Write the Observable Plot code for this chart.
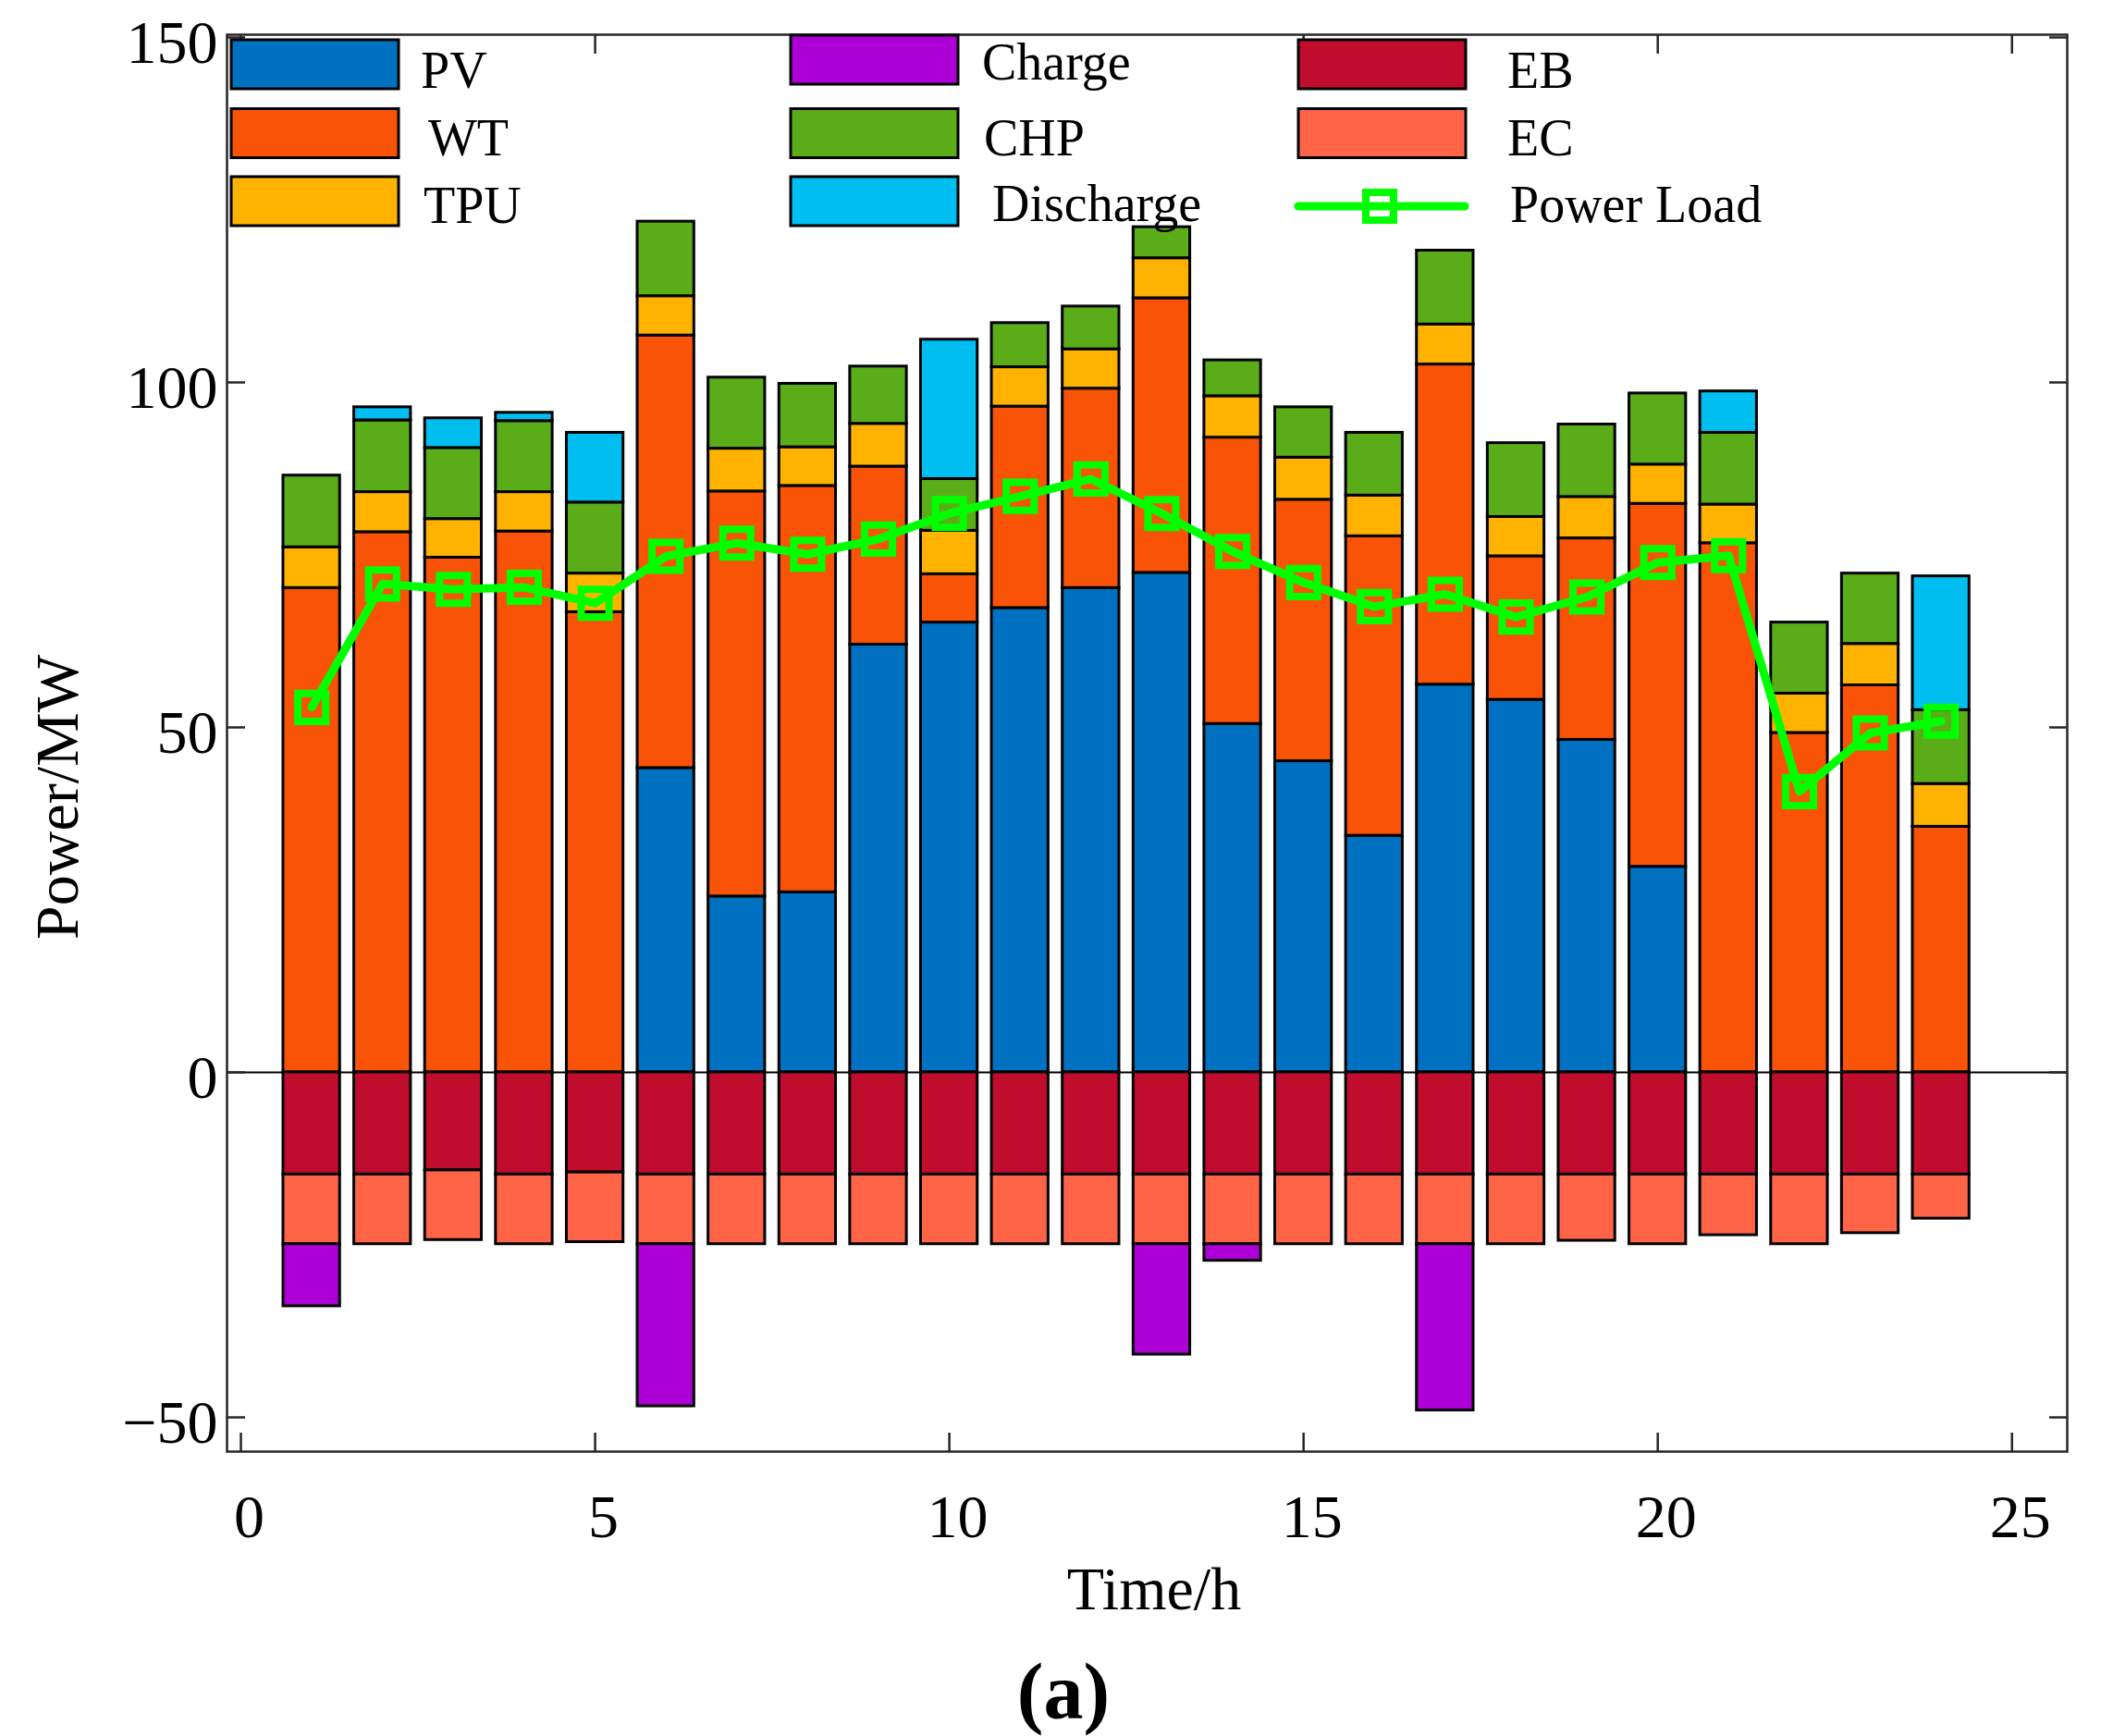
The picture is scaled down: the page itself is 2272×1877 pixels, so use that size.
<!DOCTYPE html>
<html>
<head>
<meta charset="utf-8">
<script src="https://cdn.jsdelivr.net/npm/d3@7"></script>
<script src="https://cdn.jsdelivr.net/npm/@observablehq/plot@0.6"></script>
<style>
  body { margin: 0; background: #fff; }
  #chart svg { display: block; }
</style>
</head>
<body>
<div id="chart"></div>
<script>
// hourly dispatch, MW
const hours = d3.range(1, 25);
const series = ["PV", "WT", "TPU", "CHP", "Discharge", "EB", "EC", "Charge"];
const colors = ["#0070c0", "#f95307", "#ffb300", "#5aad19", "#00bff0", "#c00d2e", "#ff6446", "#ad00d6"];

const pv = [0, 0, 0, 0, 0, 44.1, 25.5, 26.1, 62.0, 65.2, 67.3, 70.2, 72.4, 50.5, 45.1, 34.3, 56.2, 54.0, 48.2, 29.8, 0, 0, 0, 0];
const wt = [70.2, 78.3, 74.6, 78.4, 66.7, 62.7, 58.7, 58.9, 25.8, 7.0, 29.2, 28.9, 39.8, 41.5, 37.9, 43.4, 46.4, 20.8, 29.2, 52.6, 76.7, 49.2, 56.1, 35.6];
const tpu = [5.9, 5.8, 5.6, 5.7, 5.6, 5.7, 6.2, 5.6, 6.2, 6.3, 5.7, 5.7, 5.8, 6.0, 6.1, 5.9, 5.8, 5.7, 6.0, 5.7, 5.6, 5.7, 6.0, 6.2];
const chp = [10.4, 10.4, 10.3, 10.3, 10.3, 10.8, 10.3, 9.2, 8.3, 7.5, 6.4, 6.2, 4.5, 5.2, 7.3, 9.1, 10.7, 10.7, 10.5, 10.3, 10.4, 10.3, 10.2, 10.7];
const discharge = [0, 1.9, 4.3, 1.2, 10.1, 0, 0, 0, 0, 20.2, 0, 0, 0, 0, 0, 0, 0, 0, 0, 0, 6.0, 0, 0, 19.4];
const eb = [-14.8, -14.8, -14.2, -14.8, -14.5, -14.8, -14.8, -14.8, -14.8, -14.8, -14.8, -14.8, -14.8, -14.8, -14.8, -14.8, -14.8, -14.8, -14.8, -14.8, -14.8, -14.8, -14.8, -14.8];
const ec = [-10.1, -10.1, -10.1, -10.1, -10.1, -10.1, -10.1, -10.1, -10.1, -10.1, -10.1, -10.1, -10.1, -10.1, -10.1, -10.1, -10.1, -10.1, -9.6, -10.1, -8.8, -10.1, -8.5, -6.4];
const charge = [-9.0, 0, 0, 0, 0, -23.5, 0, 0, 0, 0, 0, 0, -16.0, -2.4, 0, 0, -24.1, 0, 0, 0, 0, 0, 0, 0];
const load = [52.9, 70.8, 70.0, 70.3, 68.0, 74.8, 76.7, 75.1, 77.3, 81.0, 83.5, 86.0, 81.0, 75.5, 71.0, 67.5, 69.3, 66.0, 68.9, 73.9, 74.9, 40.7, 49.2, 50.9];

const xTicks = [0, 5, 10, 15, 20, 25];
const yTicks = [-50, 0, 50, 100, 150];

const bySeries = {PV: pv, WT: wt, TPU: tpu, CHP: chp, Discharge: discharge, EB: eb, EC: ec, Charge: charge};
const rows = [];
series.forEach(s => bySeries[s].forEach((v, i) => {
  if (v !== 0) rows.push({hour: hours[i], series: s, value: v});
}));
const loadRows = hours.map((h, i) => ({hour: h, load: load[i]}));

const font = "'Liberation Serif', 'Times New Roman', serif";
const minus = d => d < 0 ? "\u2212" + Math.abs(d) : String(d);

const chart = Plot.plot({
  width: 2272,
  height: 1877,
  marginLeft: 245,
  marginRight: 37,
  marginTop: 37,
  marginBottom: 308,
  style: {fontFamily: font, fontSize: "66px", color: "black", background: "white"},
  x: {domain: [-0.196, 25.78]},
  y: {domain: [-54.96, 150.4]},
  color: {domain: series, range: colors},
  marks: [
    Plot.ruleY([0], {stroke: "black", strokeWidth: 2}),
    Plot.rectY(rows, Plot.stackY({
      x1: d => d.hour - 0.4,
      x2: d => d.hour + 0.4,
      y: "value",
      z: "series",
      fill: "series",
      order: series,
      stroke: "black",
      strokeWidth: 3
    })),
    Plot.line(loadRows, {x: "hour", y: "load", stroke: "#00ff00", strokeWidth: 9, strokeLinejoin: "round"}),
    Plot.dot(loadRows, {x: "hour", y: "load", symbol: "square", r: 17, stroke: "#00ff00", strokeWidth: 8, fill: "none"}),
    // inward ticks, MATLAB style
    Plot.axisX(xTicks, {anchor: "bottom", tickSize: -20, tickFormat: () => "", label: null, stroke: "#262626", strokeWidth: 2.5}),
    Plot.axisX(xTicks, {anchor: "top", tickSize: -20, tickFormat: () => "", label: null, stroke: "#262626", strokeWidth: 2.5}),
    Plot.axisY(yTicks, {anchor: "left", tickSize: -20, tickFormat: () => "", label: null, stroke: "#262626", strokeWidth: 2.5}),
    Plot.axisY(yTicks, {anchor: "right", tickSize: -20, tickFormat: () => "", label: null, stroke: "#262626", strokeWidth: 2.5}),
    // tick labels
    Plot.axisX(xTicks, {anchor: "bottom", tickSize: 0, tickPadding: 46, dx: 9, label: null, fontSize: 66}),
    Plot.axisY(yTicks, {anchor: "left", tickSize: 0, tickPadding: 10, dy: 6, label: null, fontSize: 66, tickFormat: minus}),
    Plot.frame({stroke: "#262626", strokeWidth: 2.5})
  ]
});

const svg = d3.select(chart);

// axis titles
svg.append("text")
  .attr("transform", "translate(84,862) rotate(-90)")
  .attr("text-anchor", "middle")
  .attr("font-size", 66)
  .text("Power/MW");
svg.append("text")
  .attr("x", 1248).attr("y", 1740)
  .attr("text-anchor", "middle")
  .attr("font-size", 66)
  .text("Time/h");
svg.append("text")
  .attr("x", 1150).attr("y", 1858)
  .attr("text-anchor", "middle")
  .attr("font-size", 86)
  .attr("font-weight", "bold")
  .text("(a)");

// legend, three columns like the original
const legendItems = [
  {name: "PV", x: 250, y: 43, tx: 455, ty: 95},
  {name: "WT", x: 250, y: 117.5, tx: 463, ty: 168},
  {name: "TPU", x: 250, y: 191, tx: 458, ty: 241},
  {name: "Charge", x: 855, y: 38, tx: 1062, ty: 86},
  {name: "CHP", x: 855, y: 117.5, tx: 1064, ty: 168},
  {name: "Discharge", x: 855, y: 191, tx: 1073, ty: 239},
  {name: "EB", x: 1404, y: 43, tx: 1630, ty: 95},
  {name: "EC", x: 1404, y: 117.5, tx: 1630, ty: 168}
];
const legend = svg.append("g").attr("font-size", 56).attr("text-anchor", "start");
legendItems.forEach(d => {
  legend.append("rect")
    .attr("x", d.x).attr("y", d.y)
    .attr("width", 181).attr("height", 53)
    .attr("fill", colors[series.indexOf(d.name)])
    .attr("stroke", "black").attr("stroke-width", 3);
  legend.append("text").attr("x", d.tx).attr("y", d.ty).text(d.name);
});
legend.append("line")
  .attr("x1", 1404).attr("x2", 1584).attr("y1", 223).attr("y2", 223)
  .attr("stroke", "#00ff00").attr("stroke-width", 9).attr("stroke-linecap", "round");
legend.append("rect")
  .attr("x", 1477).attr("y", 208).attr("width", 30).attr("height", 30)
  .attr("fill", "none").attr("stroke", "#00ff00").attr("stroke-width", 8);
legend.append("text").attr("x", 1633).attr("y", 240).text("Power Load");

d3.select("#chart").append(() => chart);
</script>
</body>
</html>
